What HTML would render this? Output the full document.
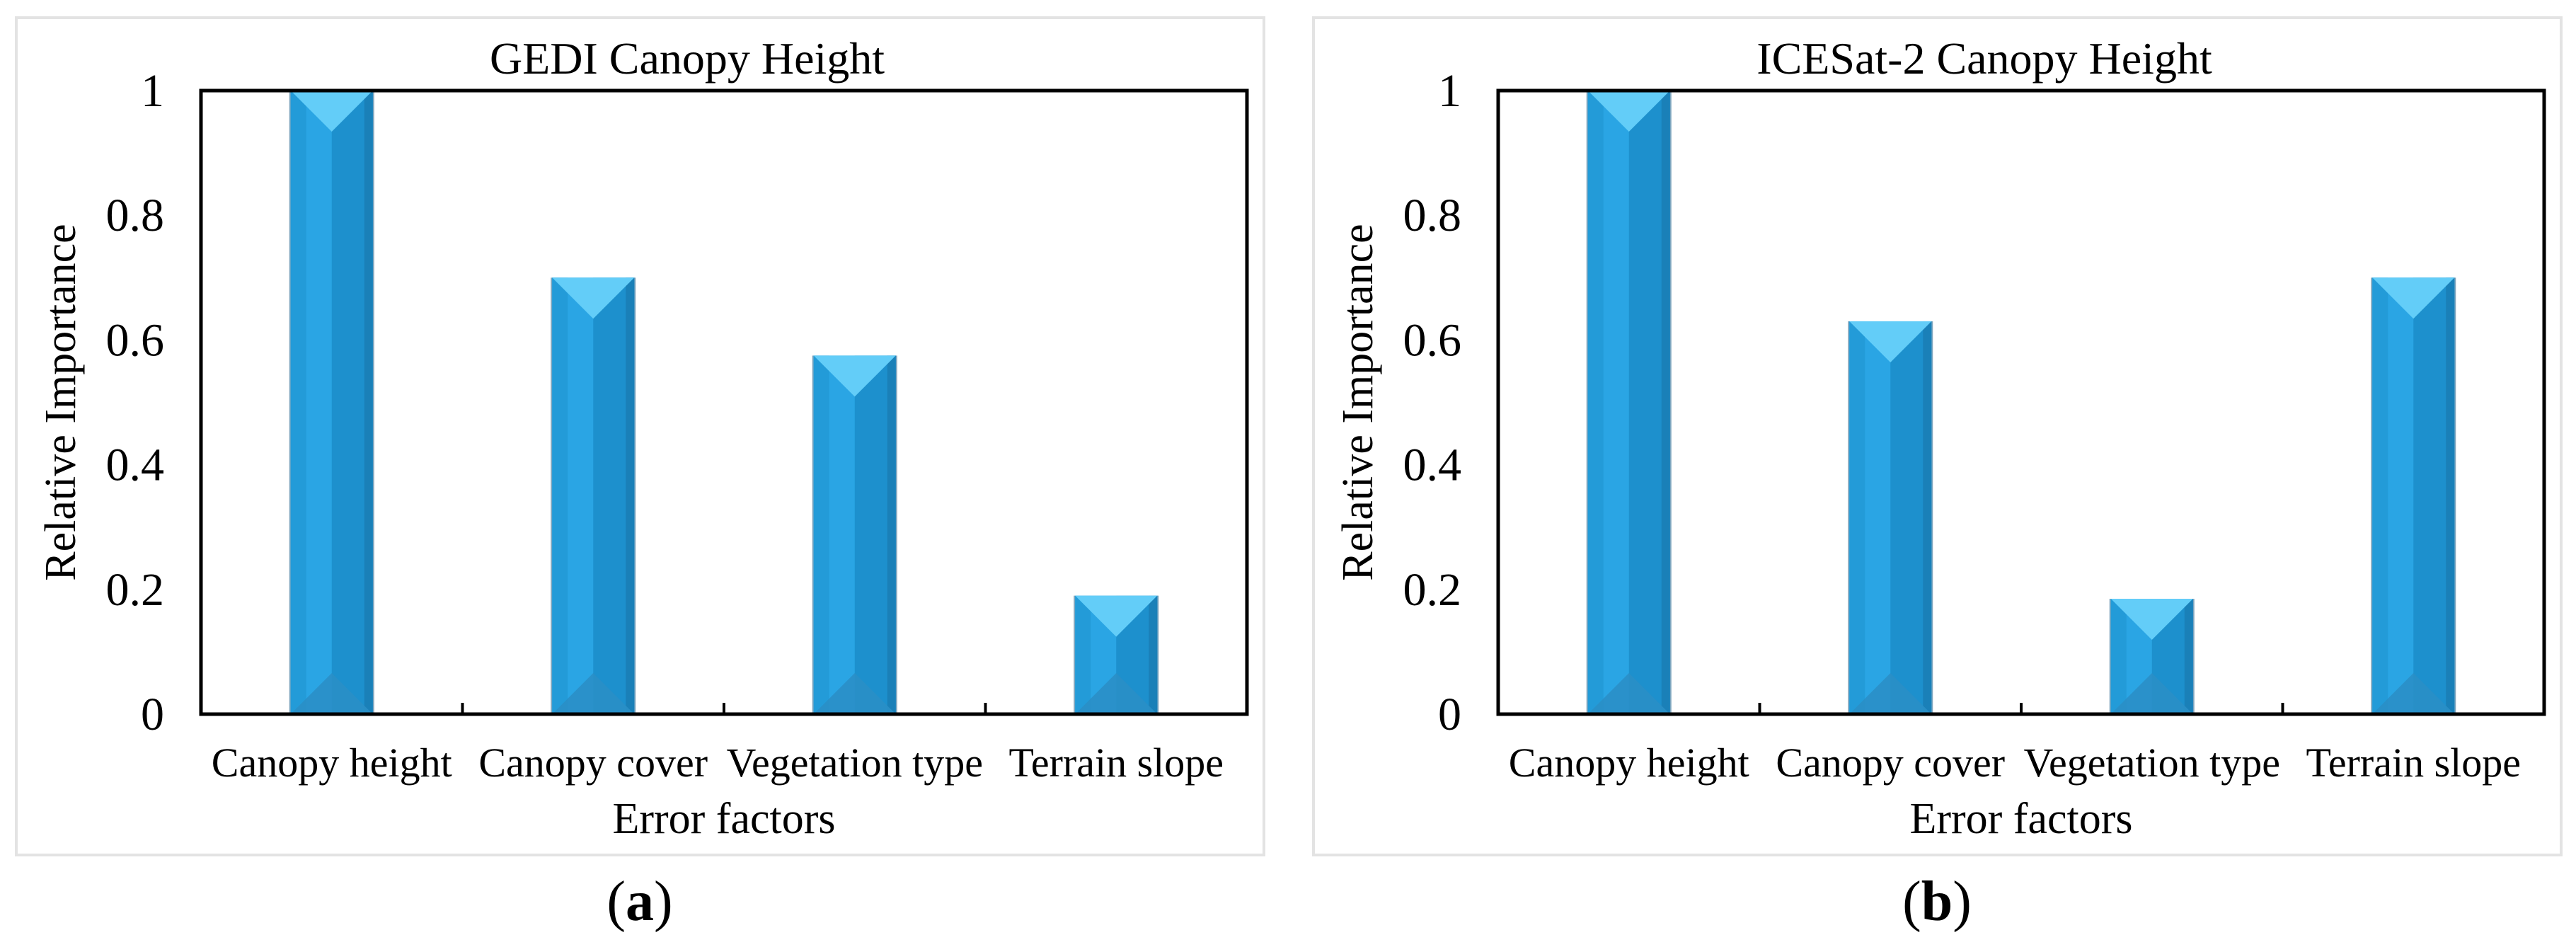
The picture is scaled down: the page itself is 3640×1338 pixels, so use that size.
<!DOCTYPE html>
<html><head><meta charset="utf-8"><style>
html,body{margin:0;padding:0;background:#fff;}
svg{display:block;font-family:"Liberation Serif",serif;}
svg text{font-family:"Liberation Serif",serif;}
</style></head><body>
<svg id="chart" width="3640" height="1338" viewBox="0 0 3640 1338"></svg>
<script>
const categories = ["Canopy height","Canopy cover","Vegetation type","Terrain slope"];
const gediValues = [1.0, 0.70, 0.575, 0.19];
const icesatValues = [1.0, 0.63, 0.185, 0.70];
const yTicks = [0, 0.2, 0.4, 0.6, 0.8, 1];
const yTickLabels = ["0","0.2","0.4","0.6","0.8","1"];
const panelTitles = ["GEDI Canopy Height","ICESat-2 Canopy Height"];
const captions = ["a","b"];

const NS = "http://www.w3.org/2000/svg";
const svg = document.getElementById("chart");
function mk(tag, attrs, parent){
  const e = document.createElementNS(NS, tag);
  for (const k in attrs) e.setAttribute(k, attrs[k]);
  if (tag === "text") e.setAttribute("font-family", "Liberation Serif, serif");
  (parent||svg).appendChild(e);
  return e;
}
function drawPanel(ox, values, title, cap, idx){
  const g = mk("g", {});
  
  
  const frame = mk("rect", {x: ox+1, y: 25, width: 1763, height: 1183, fill: "none", stroke: "#e3e3e3", "stroke-width": 4}, g);
  
  
  const L = ox + 262, R = L + 1478, T = 128, B = 1009;
  const yS = v => B - v * (B - T);
  const band = (R - L) / categories.length;
  const xC = i => L + band * (i + 0.5);
  const bw = 116;
  const t = mk("text", {x: (L+R)/2 - 52, y: 104, "font-size": 64, "text-anchor": "middle"}, g);
  t.textContent = title;
  
  
  values.forEach((v, i) => {
    const x0 = xC(i) - bw/2, x1 = xC(i) + bw/2, top = yS(v), cx = xC(i);
    const bg = mk("g", {}, g);
    
    
    const h = B - top, tri = Math.min(bw*0.5, h*0.5);
    mk("rect", {x: x0-2, y: top, width: bw+4, height: h, fill: "#7fa6bf"}, bg);
    mk("rect", {x: x0, y: top, width: bw, height: h, fill: "#2aa5e4"}, bg);
    mk("rect", {x: x0, y: top, width: 22, height: h, fill: "#239bd8"}, bg);
    mk("rect", {x: cx, y: top, width: bw/2, height: h, fill: "#1d90cd"}, bg);
    mk("rect", {x: x1-12, y: top, width: 12, height: h, fill: "#1a80b8"}, bg);
    mk("polygon", {points: `${x0},${B} ${x1},${B} ${cx},${B-tri}`, fill: "#2a8fc6", opacity: 0.9}, bg);
    mk("polygon", {points: `${x0},${top} ${x1},${top} ${cx},${top+tri}`, fill: "#63cdf8"}, bg);
  });
  const ax = mk("path", {d: `M${L},${T} H${R} V${B} H${L} Z`, fill: "none", stroke: "#000", "stroke-width": 5}, g);
  
  
  for (let i = 1; i < categories.length; i++) {
    mk("line", {x1: L+band*i, x2: L+band*i, y1: B, y2: B-16, stroke: "#000", "stroke-width": 4}, g);
  }
  yTicks.forEach((v, i) => {
    const tl = mk("text", {x: L - 52, y: yS(v) + 22, "font-size": 66, "text-anchor": "end"}, g);
    tl.textContent = yTickLabels[i];
    
    
  });
  categories.forEach((c, i) => {
    const cl = mk("text", {x: xC(i), y: 1097, "font-size": 58, "text-anchor": "middle"}, g);
    cl.textContent = c;
    
    
  });
  const xt = mk("text", {x: (L+R)/2, y: 1177, "font-size": 62, "text-anchor": "middle"}, g);
  xt.textContent = "Error factors";
  
  
  const yt = mk("text", {x: 0, y: 0, "font-size": 62, "text-anchor": "middle", transform: `translate(${ox+84},${(T+B)/2}) rotate(-90)`}, g);
  yt.textContent = "Relative Importance";
  
  
  const c = mk("text", {x: ox + 882, y: 1300, "font-size": 80, "text-anchor": "middle"}, g);
  
  
  const p1 = mk("tspan", {}, c); p1.textContent = "(";
  const p2 = mk("tspan", {"font-weight": "bold"}, c); p2.textContent = cap;
  const p3 = mk("tspan", {}, c); p3.textContent = ")";
}
drawPanel(22, gediValues, panelTitles[0], captions[0], 0);
drawPanel(1855, icesatValues, panelTitles[1], captions[1], 1);
</script>
</body></html>
